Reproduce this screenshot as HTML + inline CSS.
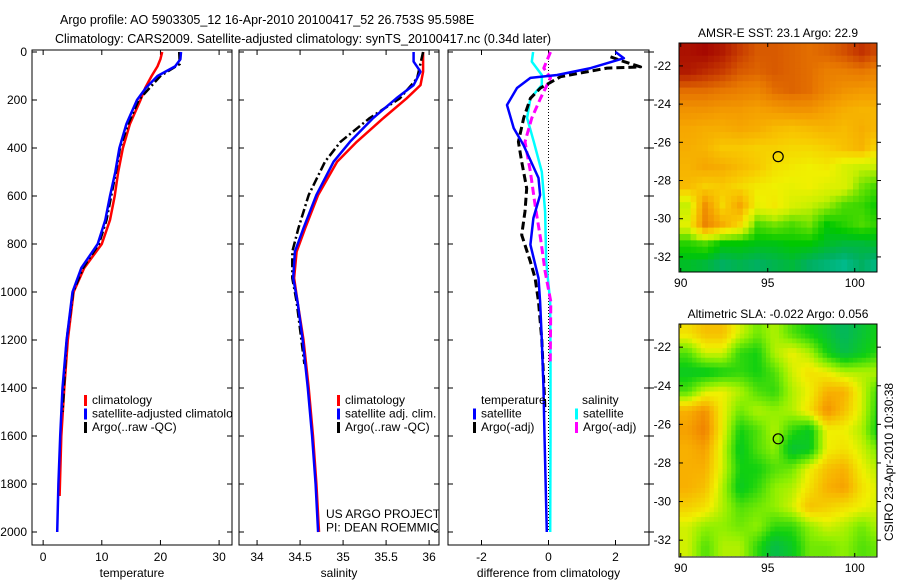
<!DOCTYPE html>
<html><head><meta charset="utf-8">
<style>
html,body{margin:0;padding:0;background:#fff;}
svg{display:block;font-family:"Liberation Sans",sans-serif;}
text{font-size:12px;fill:#000;}
</style></head>
<body>
<svg id="fig" width="900" height="580" viewBox="0 0 900 580">
<defs>
<clipPath id="c1"><rect x="32" y="50" width="200" height="495"/></clipPath>
<clipPath id="c2"><rect x="239" y="50" width="200" height="495"/></clipPath>
<clipPath id="c3"><rect x="448" y="50" width="201" height="495"/></clipPath>
<clipPath id="cm1"><rect x="679" y="43" width="198" height="229"/></clipPath>
<clipPath id="cm2"><rect x="679" y="324" width="198" height="233"/></clipPath>
</defs>
<text x="60" y="24" style="font-size:12.5px">Argo profile: AO 5903305_12 16-Apr-2010 20100417_52 26.753S 95.598E</text>
<text x="55" y="43" style="font-size:12.5px">Climatology: CARS2009. Satellite-adjusted climatology: synTS_20100417.nc (0.34d later)</text>
<g id="plots"></g>
<text transform="translate(893,462) rotate(-90)" text-anchor="middle">CSIRO 23-Apr-2010 10:30:38</text>
</svg>
<script>
// ---- profile data ----
const tDepth = [0,30,60,100,150,200,300,400,500,600,700,800,900,1000,1200,1400,1600,1800,2000];
const tempClimD = [0,30,60,100,150,200,300,400,500,600,700,800,900,1000,1200,1400,1600,1850];
const tempClim = [20.3,20.0,19.5,18.5,17.4,16.6,14.8,13.6,12.8,12.2,11.4,10.0,7.0,5.2,4.2,3.6,3.1,2.8];
const tempSat = [23.5,23.4,22.5,19.5,17.5,16.0,14.2,13.0,12.3,11.4,10.6,9.3,6.5,5.0,4.0,3.3,2.9,2.6,2.4];
const argoD = [0,50,100,200,300,400,500,600,700,800,900,1000,1200,1500];
const tempArgo = [23.2,23.3,20.0,16.3,14.5,13.1,12.4,11.6,10.8,9.5,6.8,5.1,4.0,3.3];
const sDepth = [0,40,82,138,193,275,374,457,596,734,832,942,1040,1200,1400,1600,1800,2000];
const salClim = [35.93,35.93,35.93,35.9,35.74,35.47,35.16,34.93,34.71,34.56,34.46,34.43,34.47,34.54,34.6,34.65,34.69,34.72];
const salSat = [35.82,35.82,35.9,35.82,35.62,35.35,35.08,34.89,34.69,34.54,34.44,34.42,34.47,34.53,34.59,34.64,34.68,34.71];
const salArgoD = [0,110,193,275,374,457,596,734,832,942,1040,1300];
const salArgo = [35.93,35.86,35.66,35.31,34.97,34.79,34.6,34.48,34.41,34.41,34.46,34.55];
const dTempSatD = [0,26,67,96,108,150,221,317,387,525,596,692,803,942,1040,1200,1400,1600,2000];
const dTempSat = [2.0,2.25,1.26,0.26,-0.54,-0.94,-1.24,-1.04,-0.75,-0.3,-0.25,-0.45,-0.54,-0.3,-0.25,-0.2,-0.15,-0.12,-0.05];
const dTempArgoD = [20,40,62,67,103,150,193,275,374,457,568,664,762,874,942,1040,1200,1500];
const dTempArgo = [1.85,2.25,2.75,1.75,0.36,-0.24,-0.54,-0.74,-0.9,-0.8,-0.65,-0.7,-0.8,-0.54,-0.4,-0.3,-0.2,-0.1];
const dSalSatD = [0,40,96,138,193,275,374,499,664,874,1040,1300,1600,2000];
const dSalSat = [-0.46,-0.5,-0.2,-0.2,-0.54,-0.64,-0.44,-0.2,-0.1,-0.07,0.05,0.06,0.06,0.05];
const dSalArgoD = [0,67,108,193,275,374,499,638,776,914,1040,1300];
const dSalArgo = [0.06,-0.14,0.06,-0.24,-0.5,-0.7,-0.54,-0.4,-0.24,-0.1,0.07,0.05];
const depthTicks = [0,200,400,600,800,1000,1200,1400,1600,1800,2000];
const tempTicks = [0,10,20,30];
const salTicks = [34,34.5,35,35.5,36];
const diffTicks = [-2,0,2];
// ---- map data (1 degree grid, rows lat -21.3..-32.3, cols lon 90.4..101.4) ----
const sstRows = [
[25.3,25.4,25.2,24.8,24.5,24.5,24.4,24.3,24.4,24.6,24.9,24.6],
[25.2,25.0,24.8,24.5,24.4,24.5,24.4,24.3,24.1,24.1,24.2,24.0],
[24.3,24.3,24.2,24.1,24.0,24.3,24.4,24.3,24.0,23.8,23.7,23.7],
[23.8,23.8,23.7,23.7,23.6,23.7,23.8,23.8,23.6,23.4,23.3,23.3],
[23.5,23.4,23.4,23.5,23.4,23.2,23.1,23.2,23.3,23.2,23.4,23.2],
[23.4,23.3,23.0,23.0,22.9,22.9,22.8,22.8,22.9,23.1,23.3,22.7],
[23.3,23.5,23.4,23.2,23.0,22.7,22.6,22.5,22.6,22.2,22.0,22.0],
[23.2,22.9,23.0,22.8,22.6,22.5,22.4,22.5,22.3,22.2,21.6,21.3],
[22.0,23.8,22.8,23.5,22.4,22.6,22.2,22.0,21.8,21.4,21.3,21.0],
[22.3,24.0,23.4,22.8,21.4,21.6,21.4,21.6,21.0,21.2,21.4,21.2],
[21.2,21.4,21.0,21.0,20.9,20.9,21.0,21.0,20.8,20.7,20.7,20.8],
[20.8,20.7,20.5,20.6,20.5,20.6,20.7,20.5,20.4,20.3,20.5,20.3]];
const slaRows = [
[0.3,0.5,0.5,0.1,-0.2,0.0,-0.3,-0.5,-0.7,-0.9,-0.7,-0.5],
[-0.3,0.1,0.1,-0.4,-0.5,0.0,0.2,0.0,-0.5,-0.8,-0.6,-0.4],
[-0.6,-0.6,-0.5,-0.4,-0.5,-0.3,0.1,0.3,0.2,0.0,0.0,0.0],
[-0.3,0.1,0.2,0.0,-0.3,-0.4,0.0,0.2,0.6,0.6,0.1,-0.4],
[0.6,0.8,0.2,-0.2,0.0,-0.1,0.0,0.3,0.8,0.5,0.1,-0.5],
[0.7,0.9,0.2,-0.5,-0.3,0.0,-0.4,-0.6,0.2,0.2,0.0,-0.6],
[0.6,0.7,0.1,-0.6,-0.3,-0.1,-0.7,-0.6,0.2,0.3,0.1,-0.2],
[0.6,0.6,0.1,-0.5,-0.5,-0.3,-0.2,0.2,0.5,0.6,0.2,0.0],
[0.6,0.5,0.0,-0.6,-0.4,-0.1,0.0,0.3,0.6,0.7,0.3,0.1],
[0.4,0.3,0.0,-0.3,-0.2,-0.1,0.1,0.5,0.4,0.3,0.2,0.1],
[0.1,-0.1,-0.1,-0.2,-0.1,-0.4,-0.4,-0.1,0.1,0.0,-0.2,0.0],
[0.1,-0.3,0.0,0.0,-0.4,-0.8,-0.6,-0.2,-0.2,-0.1,-0.3,-0.2]];
const argoLon = 95.6, argoLat = -26.75;
const lonTicks = [90,95,100];
const latTicks = [-22,-24,-26,-28,-30,-32];

const NS = 'http://www.w3.org/2000/svg';
const root = document.getElementById('plots');
function el(tag, attrs, parent, txt){const e=document.createElementNS(NS,tag);for(const k in attrs)e.setAttribute(k,attrs[k]);if(txt!==undefined)e.textContent=txt;(parent||root).appendChild(e);return e;}
const yD = d => 52 + d*0.24;
const panels = [
 {x0:32,x1:232,lo:-1.9,hi:32.2,clip:'c1',ticks:tempTicks,lab:'temperature',name:'temperature-panel'},
 {x0:239,x1:439,lo:33.79,hi:36.115,clip:'c2',ticks:salTicks,lab:'salinity',name:'salinity-panel'},
 {x0:448,x1:649,lo:-3.0,hi:3.0,clip:'c3',ticks:diffTicks,lab:'difference from climatology',name:'difference-panel'}];
panels.forEach((p,i)=>{
  p.sx = v => p.x0 + (v-p.lo)/(p.hi-p.lo)*(p.x1-p.x0);
  const g = el('g',{});
  
  
  p.g = g;
  const box = el('rect',{x:p.x0,y:50,width:p.x1-p.x0,height:495,fill:'none',stroke:'#000','stroke-width':1},g);
  
  
  depthTicks.forEach(d=>{
    el('line',{x1:p.x0,x2:p.x0+5,y1:yD(d),y2:yD(d),stroke:'#000'},g);
    el('line',{x1:p.x1,x2:p.x1-5,y1:yD(d),y2:yD(d),stroke:'#000'},g);
    if(i===2) el('line',{x1:p.x1,x2:p.x1+5,y1:yD(d),y2:yD(d),stroke:'#000'},g);
    if(i===0){const t=el('text',{x:27,y:yD(d)+4,'text-anchor':'end'},g,String(d));
      
      }
  });
  p.ticks.forEach(v=>{
    const x=p.sx(v);
    el('line',{x1:x,x2:x,y1:545,y2:540,stroke:'#000'},g);
    el('line',{x1:x,x2:x,y1:50,y2:55,stroke:'#000'},g);
    const t=el('text',{x:x,y:561,'text-anchor':'middle'},g,String(v));
    
    
  });
  const xl=el('text',{x:(p.x0+p.x1)/2,y:577,'text-anchor':'middle'},g,p.lab);
  
  
});
function line(p, depths, vals, color, w, dash, name){
  const pts = vals.map((v,k)=>p.sx(v).toFixed(1)+','+yD(depths[k]).toFixed(1)).join(' ');
  const a={points:pts,fill:'none',stroke:color,'stroke-width':w,'stroke-linejoin':'round','clip-path':'url(#'+p.clip+')'};
  if(dash)a['stroke-dasharray']=dash;
  const l=el('polyline',a,p.g);
  
  
}
const P1=panels[0],P2=panels[1],P3=panels[2];
line(P1,tempClimD,tempClim,'#f00',2.5,null,'temp-climatology-line');
line(P1,argoD,tempArgo,'#000',2.5,'9,3,2,3','temp-argo-line');
line(P1,tDepth,tempSat,'#00f',2.5,null,'temp-satellite-line');
line(P2,sDepth,salClim,'#f00',2.5,null,'sal-climatology-line');
line(P2,salArgoD,salArgo,'#000',2.5,'9,3,2,3','sal-argo-line');
line(P2,sDepth,salSat,'#00f',2.5,null,'sal-satellite-line');
const zl=el('line',{x1:P3.sx(0),x2:P3.sx(0),y1:52,y2:yD(2000),stroke:'#000','stroke-dasharray':'1,2'},P3.g);


line(P3,dSalSatD,dSalSat,'#0ff',2.5,null,'sal-diff-satellite-line');
line(P3,dSalArgoD,dSalArgo,'#f0f',3,'8,4','sal-diff-argo-line');
line(P3,dTempArgoD,dTempArgo,'#000',3,'8,4','temp-diff-argo-line');
line(P3,dTempSatD,dTempSat,'#00f',2.5,null,'temp-diff-satellite-line');

function legend(p, x, y, items){
  items.forEach((it,k)=>{
    const yy=y+k*13.5;
    if(it.c){const m=el('rect',{x:x,y:yy-9,width:3,height:11,fill:it.c,'clip-path':'url(#'+p.clip+')'},p.g);
      
      }
    const t=el('text',{x:x+(it.c?8:0),y:yy,'clip-path':'url(#'+p.clip+')'},p.g,it.t);
    
    
  });
}
legend(P1,84,404,[{c:'#f00',t:'climatology'},{c:'#00f',t:'satellite-adjusted climatology'},{c:'#000',t:'Argo(..raw -QC)'}]);
legend(P2,337,404,[{c:'#f00',t:'climatology'},{c:'#00f',t:'satellite adj. clim.'},{c:'#000',t:'Argo(..raw -QC)'}]);
legend(P2,326,518,[{t:'US ARGO PROJECT'},{t:'PI: DEAN ROEMMICH'}]);
legend(P3,481,404,[{t:'temperature'}]);
legend(P3,473,417.5,[{c:'#00f',t:'satellite'},{c:'#000',t:'Argo(-adj)'}]);
legend(P3,582,404,[{t:'salinity'}]);
legend(P3,575,417.5,[{c:'#0ff',t:'satellite'},{c:'#f0f',t:'Argo(-adj)'}]);

// ---- maps ----
function lerpCol(stops, v){
  if(v<=stops[0][0])return 'rgb('+stops[0][1].join(',')+')';
  for(let i=1;i<stops.length;i++){if(v<=stops[i][0]){const a=stops[i-1],b=stops[i],t=(v-a[0])/(b[0]-a[0]);
    return 'rgb('+[0,1,2].map(j=>Math.round(a[1][j]+(b[1][j]-a[1][j])*t)).join(',')+')';}}
  const l=stops[stops.length-1][1];return 'rgb('+l.join(',')+')';
}
const sstStops=[[19,[0,60,200]],[20,[0,200,200]],[20.5,[0,176,96]],[21,[0,200,0]],[21.5,[96,224,0]],[22,[200,240,0]],[22.5,[240,240,0]],[23,[248,200,0]],[23.6,[245,160,0]],[24.2,[232,120,0]],[24.8,[200,60,0]],[25.5,[160,0,0]]];
const slaStops=[[-1,[0,176,112]],[-0.5,[16,208,16]],[-0.1,[144,240,0]],[0.2,[240,240,0]],[0.6,[248,176,0]],[0.9,[240,128,0]]];
function map(cfg){
  const g=el('g',{});
  
  
  const sx=v=>679+(v-89.9)*17.4, sy=v=>cfg.top+(-20.8-v)*cfg.ky;
  const cells=el('g',{'clip-path':'url(#'+cfg.clip+')'},g);
  const rows=cfg.rows, nR=rows.length, nC=rows[0].length;
  const sub=cfg.sub;
  for(let i=0;i<nR*sub;i++)for(let j=0;j<nC*sub;j++){
    let v;
    if(sub===1)v=rows[i][j];
    else{const fi=Math.min(nR-1,Math.max(0,(i+0.5)/sub-0.5)),fj=Math.min(nC-1,Math.max(0,(j+0.5)/sub-0.5));
      const i0=Math.floor(fi),j0=Math.floor(fj),i1=Math.min(nR-1,i0+1),j1=Math.min(nC-1,j0+1),ti=fi-i0,tj=fj-j0;
      v=rows[i0][j0]*(1-ti)*(1-tj)+rows[i0][j1]*(1-ti)*tj+rows[i1][j0]*ti*(1-tj)+rows[i1][j1]*ti*tj;}
    const lon=89.9+j/sub, lat=-20.8-i/sub;
    const c=el('rect',{x:sx(lon).toFixed(2),y:sy(lat).toFixed(2),width:(17.4/sub+0.6).toFixed(2),height:(cfg.ky/sub+0.6).toFixed(2),fill:lerpCol(cfg.stops,v)},cells);
    
    
  }
  const fr=el('rect',{x:679,y:cfg.top,width:198,height:cfg.h,fill:'none',stroke:'#000'},g);
  
  
  const ci=el('circle',{cx:sx(argoLon),cy:sy(argoLat),r:5,fill:'none',stroke:'#000','stroke-width':1.2},g);
  
  
  lonTicks.forEach(v=>{const x=sx(v);
    el('line',{x1:x,x2:x,y1:cfg.top+cfg.h,y2:cfg.top+cfg.h-4,stroke:'#000'},g);
    el('line',{x1:x,x2:x,y1:cfg.top,y2:cfg.top+4,stroke:'#000'},g);
    const t=el('text',{x:x,y:cfg.top+cfg.h+15,'text-anchor':'middle'},g,String(v));
    
    });
  latTicks.forEach(v=>{const y=sy(v);
    el('line',{x1:679,x2:683,y1:y,y2:y,stroke:'#000'},g);
    el('line',{x1:877,x2:881,y1:y,y2:y,stroke:'#000'},g);
    const t=el('text',{x:671,y:y+4,'text-anchor':'end'},g,String(v));
    
    });
  const tt=el('text',{x:778,y:cfg.top-6,'text-anchor':'middle'},g,cfg.title);
  
  
}
map({name:'sst-map',rows:sstRows,stops:sstStops,top:43,h:229,ky:19.1,clip:'cm1',sub:3,title:'AMSR-E SST: 23.1 Argo: 22.9'});
map({name:'sla-map',rows:slaRows,stops:slaStops,top:324,h:233,ky:19.3,clip:'cm2',sub:4,title:'Altimetric SLA: -0.022 Argo: 0.056'});
</script>
</body></html>
